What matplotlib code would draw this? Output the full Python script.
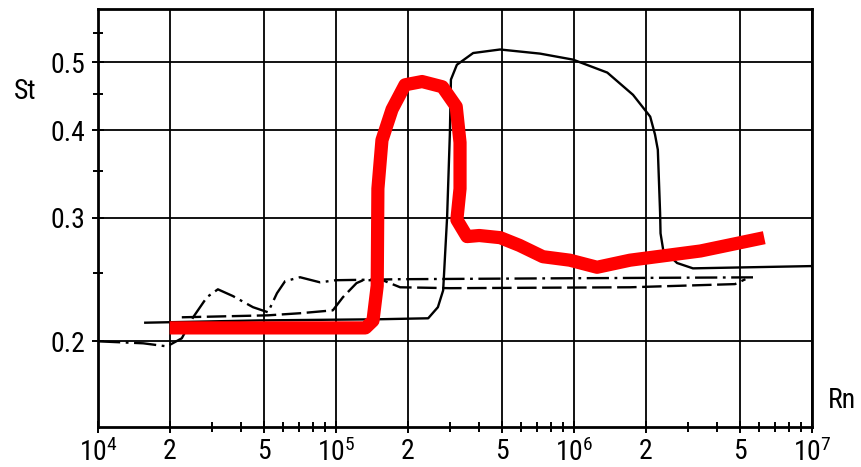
import matplotlib
matplotlib.use("Agg")
import matplotlib.pyplot as plt
from matplotlib import font_manager
from matplotlib.ticker import FixedLocator, FixedFormatter, NullFormatter

# pick a narrow sans if one is installed
names = {f.name for f in font_manager.fontManager.ttflist}
family = "DejaVu Sans"
for cand in ["DejaVu Sans Condensed", "Liberation Sans Narrow", "Roboto Condensed", "DejaVu Sans"]:
    if cand in names:
        family = cand
        break

plt.rcParams["font.family"] = family
plt.rcParams["mathtext.fontset"] = "custom"
plt.rcParams["mathtext.rm"] = family
plt.rcParams["mathtext.default"] = "rm"
plt.rcParams["lines.scale_dashes"] = False

# solid curve
rn_solid = [1.58e4, 4.8e4, 1.5e5, 2.44e5, 2.68e5, 2.82e5, 2.93e5, 3.01e5, 3.04e5,
            3.22e5, 3.77e5, 4.89e5, 7.2e5, 9.9e5, 1.38e6, 1.77e6, 2.09e6, 2.19e6,
            2.25e6, 2.30e6, 2.31e6, 2.37e6, 2.71e6, 3.16e6, 1e7]
st_solid = [0.2126, 0.2142, 0.2150, 0.2157, 0.2237, 0.2364, 0.3006, 0.3965, 0.472,
            0.4955, 0.515, 0.521, 0.514, 0.504, 0.483, 0.449, 0.418, 0.394,
            0.375, 0.305, 0.285, 0.270, 0.2586, 0.2541, 0.256]

# dashed curve
rn_dash = [2.25e4, 5.18e4, 7.06e4, 9.7e4, 1.07e5, 1.22e5, 1.30e5, 1.57e5, 1.86e5,
           3.01e5, 1.72e6, 4.75e6, 5.25e6]
st_dash = [0.2164, 0.2178, 0.2193, 0.2214, 0.2312, 0.2421, 0.2444, 0.2444, 0.2388,
           0.2381, 0.2388, 0.2413, 0.2452]

# dash-dot curve
rn_dd = [1e4, 1.55e4, 1.95e4, 2.25e4, 2.51e4, 2.87e4, 3.19e4, 3.69e4, 4.48e4,
         5.18e4, 5.65e4, 6.11e4, 7.06e4, 8.57e4, 1e5, 1.86e5, 1e6, 5.65e6]
st_dd = [0.200, 0.1987, 0.1967, 0.202, 0.2164, 0.2312, 0.2372, 0.2320, 0.2237,
         0.2200, 0.2342, 0.2436, 0.2468, 0.2427, 0.2444, 0.2452, 0.246, 0.2467]

# thick red curve
rn_red = [2.0e4, 1.33e5, 1.43e5, 1.49e5, 1.50e5, 1.56e5, 1.72e5, 1.95e5, 2.3e5,
          2.8e5, 3.2e5, 3.32e5, 3.32e5, 3.22e5, 3.55e5, 4.0e5, 4.9e5, 5.9e5,
          7.4e5, 9.6e5, 1.25e6, 1.72e6, 3.4e6, 6.3e6]
st_red = [0.209, 0.209, 0.214, 0.24, 0.33, 0.387, 0.428, 0.464, 0.469,
          0.461, 0.432, 0.384, 0.33, 0.298, 0.282, 0.283, 0.281, 0.274,
          0.264, 0.261, 0.255, 0.261, 0.269, 0.281]

x_major = [1e4, 2e4, 5e4, 1e5, 2e5, 5e5, 1e6, 2e6, 5e6, 1e7]
x_labels = ["$10^{4}$", "2", "5", "$10^{5}$", "2", "5", "$10^{6}$", "2", "5", "$10^{7}$"]
x_minor = [m * d for d in (1e4, 1e5, 1e6) for m in (3, 4, 6, 7, 8, 9)]
y_major = [0.2, 0.3, 0.4, 0.5]
y_labels = ["0.2", "0.3", "0.4", "0.5"]
y_minor = [0.25, 0.35, 0.45, 0.55]

fig = plt.figure(figsize=(8.61, 4.67), dpi=100)
ax = fig.add_axes([0.1138, 0.0857, 0.8293, 0.895])
ax.set_xscale("log")
ax.set_yscale("log")
ax.set_xlim(1e4, 1e7)
ax.set_ylim(0.151, 0.595)

ax.xaxis.set_major_locator(FixedLocator(x_major))
ax.xaxis.set_major_formatter(FixedFormatter(x_labels))
ax.xaxis.set_minor_locator(FixedLocator(x_minor))
ax.xaxis.set_minor_formatter(NullFormatter())
ax.yaxis.set_major_locator(FixedLocator(y_major))
ax.yaxis.set_major_formatter(FixedFormatter(y_labels))
ax.yaxis.set_minor_locator(FixedLocator(y_minor))
ax.yaxis.set_minor_formatter(NullFormatter())

ax.tick_params(which="major", direction="inout", length=8, width=1.4,
               labelsize=20, pad=5, color="black")
ax.tick_params(axis="x", which="major", pad=4)
ax.tick_params(which="minor", direction="inout", length=7, width=1.4)

ax.grid(True, which="major", color="black", linewidth=1.3)
for s in ax.spines.values():
    s.set_linewidth(2.0)

ax.plot(rn_solid, st_solid, color="black", linewidth=1.7)
ax.plot(rn_dash, st_dash, color="black", linewidth=1.7, dashes=(14, 4))
ax.plot(rn_dd, st_dd, color="black", linewidth=1.7, dashes=(16, 4, 2, 4))
ax.plot(rn_red, st_red, color="#ff0000", linewidth=9.5,
        solid_joinstyle="round", solid_capstyle="butt", zorder=5)

fig.text(25 / 861, 1 - 92 / 467, "St", fontsize=20, ha="center", va="center")
fig.text(842 / 861, 1 - 401 / 467, "Rn", fontsize=20, ha="center", va="center")

fig.savefig("out.png", dpi=100)
